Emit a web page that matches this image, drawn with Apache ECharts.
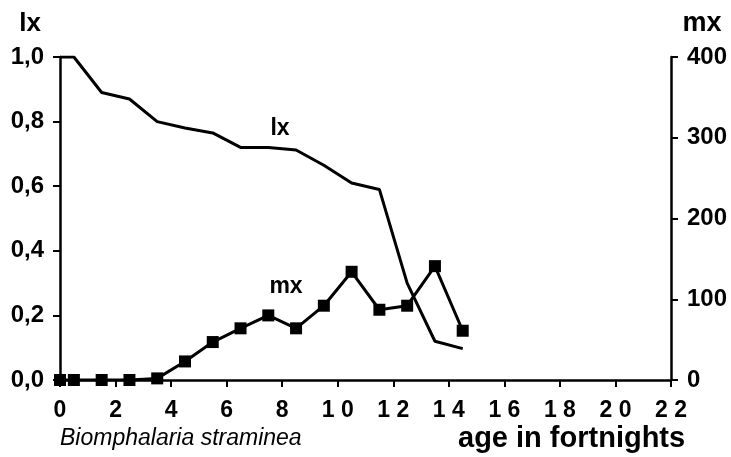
<!DOCTYPE html>
<html>
<head>
<meta charset="utf-8">
<script src="https://cdn.jsdelivr.net/npm/echarts@6/dist/echarts.min.js"></script>
<style>
html,body{margin:0;padding:0;background:#fff;}
#c{width:731px;height:457px;}
</style>
</head>
<body>
<div id="c"></div>
<script>
var ages = [0, 0.5, 1.5, 2.5, 3.5, 4.5, 5.5, 6.5, 7.5, 8.5, 9.5, 10.5, 11.5, 12.5, 13.5, 14.5];
var lxValues = [1.0, 1.0, 0.89, 0.87, 0.80, 0.78, 0.765, 0.72, 0.72, 0.712, 0.665, 0.61, 0.59, 0.30, 0.12, 0.097];
var mxValues = [0, 0, 0, 0, 2, 23, 47, 64, 80, 64, 92, 134, 87, 92, 141, 61];
var xTicks = [0, 2, 4, 6, 8, 10, 12, 14, 16, 18, 20, 22];
var lxTicks = [0, 0.2, 0.4, 0.6, 0.8, 1.0];
var mxTicks = [0, 100, 200, 300, 400];

var FONT = '"Liberation Sans", Arial, sans-serif';
var chart = echarts.init(document.getElementById('c'));

function pairs(xs, ys) { return xs.map(function (x, i) { return [x, ys[i]]; }); }

var lblStyle = { color: '#000', fontFamily: FONT, fontWeight: 'bold' };

chart.setOption({
  animation: false,
  backgroundColor: '#fff',
  grid: { left: 60, right: 60, top: 57, bottom: 77, containLabel: false },
  xAxis: {
    type: 'value', min: xTicks[0], max: xTicks[xTicks.length - 1], interval: 2,
    axisLine: { show: true, onZero: false, lineStyle: { color: '#000', width: 2.5 } },
    axisTick: { show: true, inside: false, length: 7, lineStyle: { color: '#000', width: 2 } },
    splitLine: { show: false },
    axisLabel: Object.assign({}, lblStyle, {
      fontSize: 23, margin: 19,
      formatter: function (v) { return String(v).split('').join(' '); }
    })
  },
  yAxis: [{
    type: 'value', min: lxTicks[0], max: lxTicks[lxTicks.length - 1], interval: 0.2, position: 'left',
    axisLine: { show: true, lineStyle: { color: '#000', width: 2.5 } },
    axisTick: { show: true, inside: false, length: 7, lineStyle: { color: '#000', width: 2 } },
    splitLine: { show: false },
    axisLabel: Object.assign({}, lblStyle, {
      fontSize: 24, margin: 16,
      formatter: function (v) { return v.toFixed(1).replace('.', ','); }
    })
  }, {
    type: 'value', min: mxTicks[0], max: mxTicks[mxTicks.length - 1], interval: 100, position: 'right',
    axisLine: { show: true, lineStyle: { color: '#000', width: 2.5 } },
    axisTick: { show: true, inside: false, length: 7, lineStyle: { color: '#000', width: 2 } },
    splitLine: { show: false },
    axisLabel: Object.assign({}, lblStyle, { fontSize: 24, margin: 16 })
  }],
  series: [{
    name: 'lx', type: 'line', yAxisIndex: 0,
    data: pairs(ages, lxValues),
    showSymbol: false, symbol: 'none',
    lineStyle: { color: '#000', width: 3 },
    z: 3
  }, {
    name: 'mx', type: 'line', yAxisIndex: 1,
    data: pairs(ages, mxValues),
    symbol: 'rect', symbolSize: 12,
    itemStyle: { color: '#000' },
    lineStyle: { color: '#000', width: 3 },
    z: 4
  }],
  graphic: [
    { type: 'text', x: 30, y: 24, style: { text: 'lx', font: 'bold 26px ' + FONT, fill: '#000', align: 'center', verticalAlign: 'middle' } },
    { type: 'text', x: 702, y: 24, style: { text: 'mx', font: 'bold 27px ' + FONT, fill: '#000', align: 'center', verticalAlign: 'middle' } },
    { type: 'text', x: 280, y: 129, style: { text: 'lx', font: 'bold 23px ' + FONT, fill: '#000', align: 'center', verticalAlign: 'middle' } },
    { type: 'text', x: 286, y: 287, style: { text: 'mx', font: 'bold 23px ' + FONT, fill: '#000', align: 'center', verticalAlign: 'middle' } },
    { type: 'text', x: 60, y: 439, style: { text: 'Biomphalaria straminea', font: 'italic 23px ' + FONT, fill: '#000', align: 'left', verticalAlign: 'middle' } },
    { type: 'text', x: 458, y: 439, style: { text: 'age in fortnights', font: 'bold 29px ' + FONT, fill: '#000', align: 'left', verticalAlign: 'middle' } }
  ]
});
</script>
</body>
</html>
